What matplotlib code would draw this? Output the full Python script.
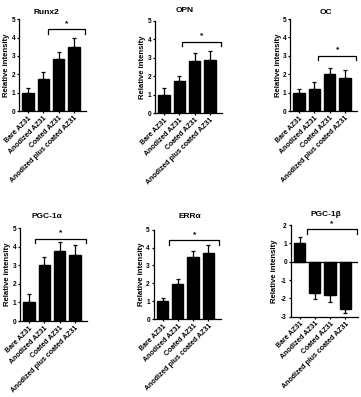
import numpy as np
import matplotlib.pyplot as plt

plt.rcParams['font.family'] = ['Liberation Sans', 'DejaVu Sans']
plt.rcParams['axes.unicode_minus'] = False

# Data
groups = ['Bare AZ31', 'Anodized AZ31', 'Coated AZ31', 'Anodized plus coated AZ31']

runx2 = [1.0, 1.75, 2.85, 3.5]
runx2_err = [0.24, 0.36, 0.39, 0.5]
opn = [1.0, 1.72, 2.8, 2.88]
opn_err = [0.35, 0.32, 0.44, 0.5]
oc = [1.0, 1.18, 2.02, 1.78]
oc_err = [0.22, 0.37, 0.31, 0.47]
pgc1a = [1.0, 3.0, 3.78, 3.54]
pgc1a_err = [0.46, 0.45, 0.48, 0.54]
erra = [1.0, 1.95, 3.5, 3.72]
erra_err = [0.18, 0.27, 0.29, 0.42]
pgc1b = [1.0, -1.72, -1.82, -2.6]
pgc1b_err = [0.36, 0.32, 0.38, 0.18]

titles = ['Runx2', 'OPN', 'OC', 'PGC-1α', 'ERRα', 'PGC-1β']
values = [runx2, opn, oc, pgc1a, erra, pgc1b]
errors = [runx2_err, opn_err, oc_err, pgc1a_err, erra_err, pgc1b_err]

# significance brackets: (x start, x end, y top)
brackets = [(1.29, 3.75, 4.45), (1.16, 3.7, 3.87), (1.27, 3.73, 3.0),
            (0.39, 3.7, 4.44), (0.43, 3.72, 4.4), (0.47, 3.75, 1.78)]

W, H = 361, 397
fig = plt.figure(figsize=(W / 100, H / 100), dpi=100)

# axes boxes in pixels: left, top, right, bottom
boxes = [(19, 19.3, 86, 111), (155, 20.7, 222, 113.3), (290, 19, 357, 111),
         (20, 228.3, 87, 321), (153.5, 229.6, 220.5, 319.3), (290.5, 225, 357.5, 316.7)]
title_pos = [(46, 13), (185, 11), (326, 12), (47, 217), (190, 216), (326, 215)]
label_off = [12, 12, 12, 12, 12, 15.5]

lw = 0.9
x = np.arange(len(groups))

for i in range(6):
    l, t, r, b = boxes[i]
    ax = fig.add_axes([l / W, 1 - b / H, (r - l) / W, (b - t) / H])
    vals = np.array(values[i])
    errs = np.array(errors[i])
    lower = np.where(vals < 0, errs, 0)
    upper = np.where(vals >= 0, errs, 0)
    ax.bar(x, vals, width=0.74, color='black', edgecolor='black', zorder=2)
    ax.errorbar(x, vals, yerr=[lower, upper], fmt='none', ecolor='black',
                elinewidth=lw, capsize=1.5, capthick=lw, zorder=1)

    if i == 5:
        ax.set_ylim(-3, 2)
        ax.set_yticks([-3, -2, -1, 0, 1, 2])
        ax.axhline(0, color='black', lw=lw, zorder=3)
    else:
        ax.set_ylim(0, 5)
        ax.set_yticks([0, 1, 2, 3, 4, 5])
    ax.set_xlim(-0.59, 3.79)

    ax.spines['top'].set_visible(False)
    ax.spines['right'].set_visible(False)
    ax.spines['left'].set_linewidth(lw)
    ax.spines['bottom'].set_linewidth(lw)
    ax.tick_params(axis='both', length=1.6, width=lw, pad=1, labelsize=4.7)
    for lab in ax.get_yticklabels():
        lab.set_fontweight('bold')

    ax.set_xticks(x)
    ax.set_xticklabels(groups, rotation=45, ha='right', rotation_mode='anchor',
                       fontsize=5, fontweight='bold')
    ax.set_ylabel('Relative intensity', fontsize=5.6, fontweight='bold')
    ax.yaxis.set_label_coords(-label_off[i] / (r - l), 0.5)
    ax.yaxis.label.set_verticalalignment('center')

    # bracket with asterisk
    x0, x1, yb = brackets[i]
    drop = 0.05 * (ax.get_ylim()[1] - ax.get_ylim()[0])
    ax.plot([x0, x0, x1, x1], [yb - drop, yb, yb, yb - drop], color='black',
            lw=lw, clip_on=False)
    ax.text((x0 + x1) / 2, yb + 0.12, '*', ha='center', va='bottom',
            fontsize=6, fontweight='bold')

    tx, ty = title_pos[i]
    fig.text(tx / W, 1 - ty / H, titles[i], ha='center', va='center',
             fontsize=6, fontweight='bold')

fig.savefig('out.png', dpi=100)
